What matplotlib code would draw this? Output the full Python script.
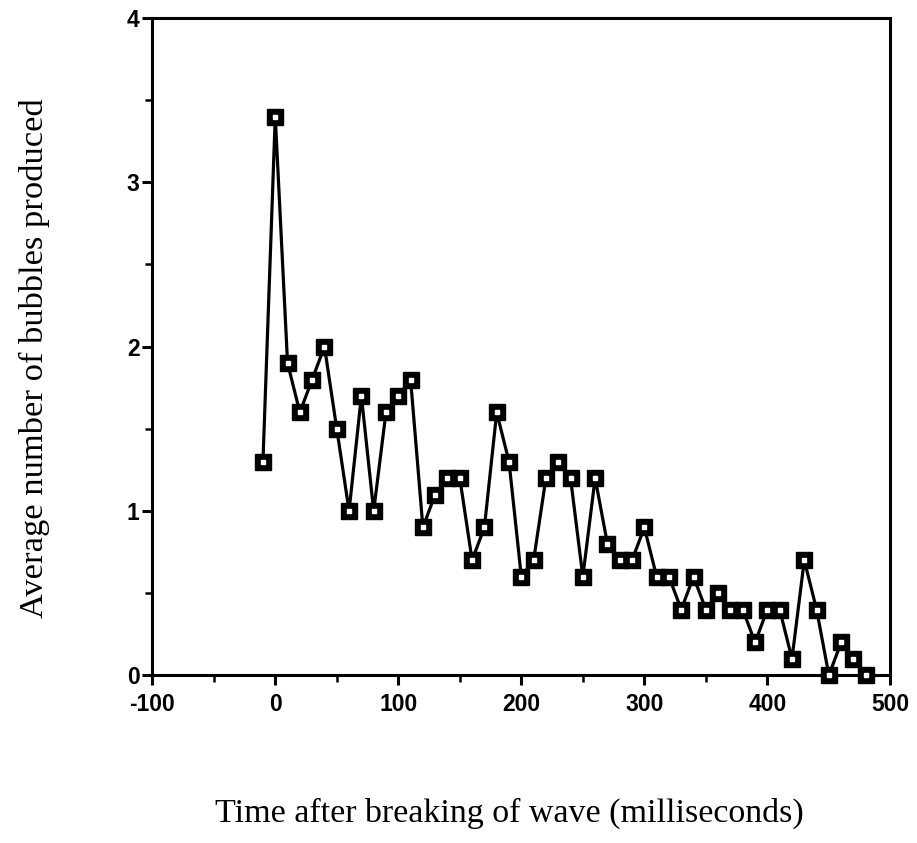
import matplotlib
matplotlib.use("Agg")
import matplotlib.pyplot as plt
from matplotlib.ticker import MultipleLocator

# Time after wave breaking (ms) and mean bubble count
time_ms = [-10, 0, 10, 20, 30, 40, 50, 60, 70, 80, 90, 100, 110, 120, 130,
           140, 150, 160, 170, 180, 190, 200, 210, 220, 230, 240, 250, 260,
           270, 280, 290, 300, 310, 320, 330, 340, 350, 360, 370, 380, 390,
           400, 410, 420, 430, 440, 450, 460, 470, 480]
bubbles = [1.3, 3.4, 1.9, 1.6, 1.8, 2.0, 1.5, 1.0, 1.7, 1.0, 1.6, 1.7, 1.8,
           0.9, 1.1, 1.2, 1.2, 0.7, 0.9, 1.6, 1.3, 0.6, 0.7, 1.2, 1.3, 1.2,
           0.6, 1.2, 0.8, 0.7, 0.7, 0.9, 0.6, 0.6, 0.4, 0.6, 0.4, 0.5, 0.4,
           0.4, 0.2, 0.4, 0.4, 0.1, 0.7, 0.4, 0.0, 0.2, 0.1, 0.0]

x_ticks = [-100, 0, 100, 200, 300, 400, 500]
x_tick_labels = ["-100", "0", "100", "200", "300", "400", "500"]
y_ticks = [0, 1, 2, 3, 4]

fig = plt.figure(figsize=(9.17, 8.43), dpi=100)
ax = fig.add_axes([0.166, 0.199, 0.805, 0.7796])

ax.plot(time_ms, bubbles, color="black", lw=2.3, marker="s", ms=11,
        mfc="black", mec="black", zorder=3, clip_on=False)
ax.plot(time_ms, bubbles, ls="none", marker="s", ms=3.0, mfc="white",
        mec="white", zorder=4, clip_on=False)

ax.set_xlim(-100, 500)
ax.set_ylim(0, 4)
ax.set_xticks(x_ticks)
ax.set_xticklabels(x_tick_labels)
ax.set_yticks(y_ticks)
ax.xaxis.set_minor_locator(MultipleLocator(50))
ax.yaxis.set_minor_locator(MultipleLocator(0.5))

for sp in ax.spines.values():
    sp.set_linewidth(2.2)
ax.tick_params(which="major", direction="out", length=7, width=2.2,
               top=False, right=False)
ax.tick_params(which="minor", direction="out", length=5, width=1.8,
               top=False, right=False)
ax.tick_params(axis="x", pad=6)
ax.tick_params(axis="y", pad=2)
for lab in ax.get_xticklabels() + ax.get_yticklabels():
    lab.set_fontfamily("Liberation Sans")
    lab.set_fontweight("bold")
    lab.set_fontsize(16.5)

ax.set_xlabel("Time after breaking of wave (milliseconds)",
              fontfamily="Liberation Serif", fontsize=24.5)
ax.set_ylabel("Average number of bubbles produced",
              fontfamily="Liberation Serif", fontsize=24.8)
ax.xaxis.set_label_coords(0.484, -0.186)
ax.yaxis.set_label_coords(-0.138, 0.4825)

fig.savefig("out.png", dpi=100)
